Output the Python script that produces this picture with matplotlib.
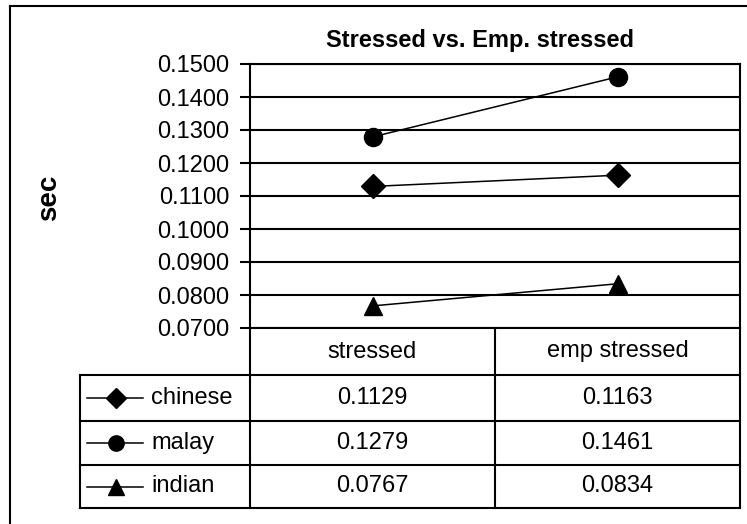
import matplotlib
matplotlib.use("Agg")
import matplotlib.pyplot as plt
from matplotlib.ticker import FormatStrFormatter, MultipleLocator

plt.rcParams['font.family'] = ['Liberation Sans', 'DejaVu Sans']

# data
categories = ['stressed', 'emp stressed']
series_names = ['chinese', 'malay', 'indian']
chinese = [0.1129, 0.1163]
malay = [0.1279, 0.1461]
indian = [0.0767, 0.0834]
series_values = [chinese, malay, indian]
markers = ['D', 'o', '^']
marker_sizes = [12, 13, 13]

W, H = 747, 524
FS = 17
fig = plt.figure(figsize=(W / 100, H / 100), dpi=100)

# plot area in pixel coords
L, R, T, B = 250, 740, 64, 328
ax = fig.add_axes([L / W, 1 - B / H, (R - L) / W, (B - T) / H])
x = list(range(len(categories)))
for vals, m, ms in zip(series_values, markers, marker_sizes):
    ax.plot(x, vals, color='black', lw=1.1, marker=m, markersize=ms,
            markerfacecolor='black', markeredgecolor='black', zorder=3)
ax.set_xlim(-0.5, len(categories) - 0.5)
ax.set_ylim(0.07, 0.15)
ax.yaxis.set_major_locator(MultipleLocator(0.01))
ax.yaxis.set_major_formatter(FormatStrFormatter('%.4f'))
ax.set_xticks([])
ax.grid(axis='y', color='black', lw=1.5)
ax.tick_params(axis='y', direction='out', length=7, width=1.5, labelsize=FS, pad=8)
for s in ax.spines.values():
    s.set_linewidth(1.5)
fig.text(480 / W, 1 - 40 / H, 'Stressed vs. Emp. stressed', fontsize=FS,
         fontweight='bold', ha='center', va='center')
fig.text(49 / W, 1 - 198 / H, 'sec', rotation=90, fontsize=20, fontweight='bold',
         ha='center', va='center')

# overlay for data table and frame
ov = fig.add_axes([0, 0, 1, 1], zorder=-1)
ov.set_xlim(0, W)
ov.set_ylim(H, 0)
ov.axis('off')
lw = 1.5
# outer frame
ov.plot([10, 10], [6, H], color='black', lw=1.5)
ov.plot([10, W], [6, 6], color='black', lw=1.5)

TL = 80
col_edges = [L, (L + R) / 2, R]
row_edges = [375, 421, 465, 508]
for y in row_edges:
    ov.plot([TL, R], [y, y], color='black', lw=lw)
ov.plot([TL, TL], [row_edges[0], row_edges[-1]], color='black', lw=lw)
for xe in col_edges:
    ov.plot([xe, xe], [B, row_edges[-1]], color='black', lw=lw)

col_centers = [(col_edges[i] + col_edges[i + 1]) / 2 for i in range(len(categories))]
for cx, cat in zip(col_centers, categories):
    ov.text(cx, (B + row_edges[0]) / 2, cat, fontsize=FS, ha='center', va='center')

for i, (name, vals, m) in enumerate(zip(series_names, series_values, markers)):
    cy = (row_edges[i] + row_edges[i + 1]) / 2
    ov.plot([87, 143], [cy, cy], color='black', lw=1.1)
    ov.plot([116], [cy], marker=m, markersize=10 if m == 'D' else 11, color='black')
    ov.text(151, cy, name, fontsize=FS, ha='left', va='center')
    for cx, v in zip(col_centers, vals):
        ov.text(cx, cy, '%.4f' % v, fontsize=FS, ha='center', va='center')

fig.savefig('out.png', dpi=100)
